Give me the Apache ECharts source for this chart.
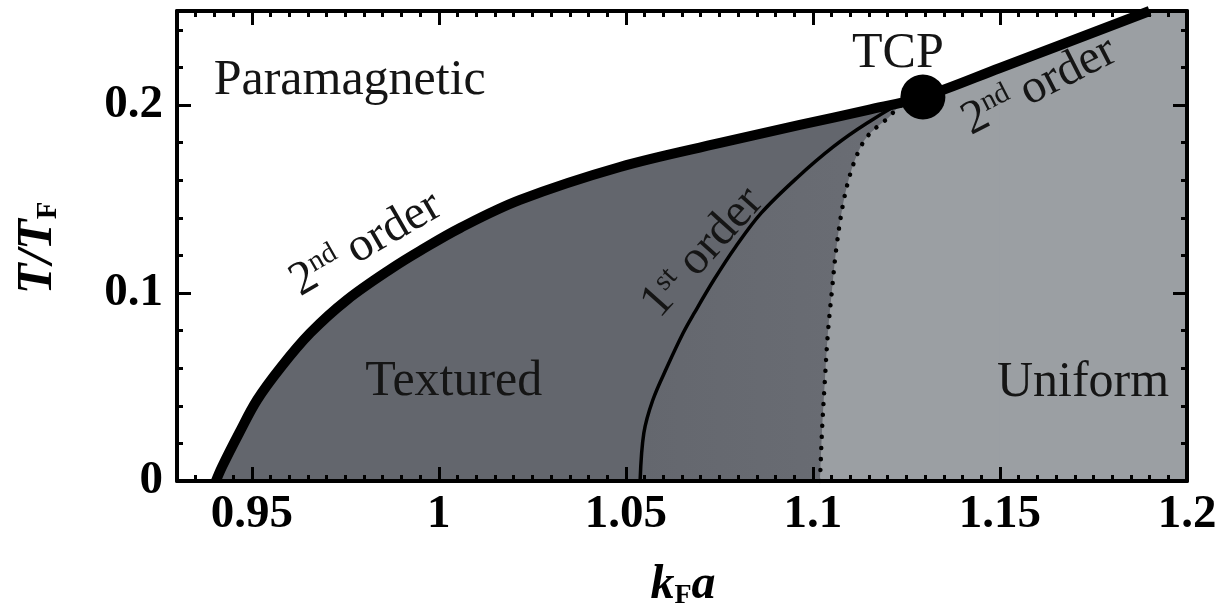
<!DOCTYPE html>
<html>
<head>
<meta charset="utf-8">
<script src="https://cdn.jsdelivr.net/npm/echarts@6/dist/echarts.min.js"></script>
<style>
html,body{margin:0;padding:0;background:#ffffff;}
#c{width:1230px;height:610px;}
</style>
</head>
<body>
<div id="c"></div>
<script>
// ---- data ----
// thick 2nd-order boundary (incl. straight segment beyond TCP)
const secondOrderK = [0.9404, 0.9420, 0.9466, 0.9514, 0.9578, 0.9656, 0.9754, 0.9877, 0.9950, 1.0057, 1.0217, 1.0484, 1.0752, 1.0965, 1.1145, 1.1294, 1.1500, 1.1900];
const secondOrderT = [0.0000, 0.0074, 0.0255, 0.0431, 0.0606, 0.0787, 0.0963, 0.1135, 0.1225, 0.1346, 0.1495, 0.1670, 0.1798, 0.1894, 0.1973, 0.2043, 0.2197, 0.2500];
// thin 1st-order line
const firstOrderK = [1.0538, 1.0548, 1.0572, 1.0610, 1.0653, 1.0683, 1.0735, 1.0793, 1.0862, 1.0957, 1.1054, 1.1145, 1.1245];
const firstOrderT = [0.0000, 0.0255, 0.0431, 0.0606, 0.0787, 0.0894, 0.1069, 0.1245, 0.1426, 0.1612, 0.1777, 0.1904, 0.2020];
// dotted line
const dottedK = [1.1019, 1.1024, 1.1032, 1.1040, 1.1051, 1.1062, 1.1080, 1.1099, 1.1120, 1.1142, 1.1171, 1.1201, 1.1233];
const dottedT = [0.0000, 0.0255, 0.0537, 0.0787, 0.1016, 0.1229, 0.1468, 0.1628, 0.1745, 0.1824, 0.1883, 0.1931, 0.1995];
// tricritical point
const tcpK = [1.1294];
const tcpT = [0.2043];
// axis ticks / labels
const xTickValues = [0.95, 1, 1.05, 1.1, 1.15, 1.2];
const yTickValues = [0, 0.1, 0.2];
const xRange = [0.93, 1.2];
const yRange = [0, 0.25];

// ---- chart ----
const SERIF = '"Liberation Serif", "DejaVu Serif", serif';
const zip = (a, b) => a.map((v, i) => [v, b[i]]);

const secondPts = zip(secondOrderK, secondOrderT);
const tcpPts = zip(tcpK, tcpT);
const texturedPts = secondPts.filter(p => p[0] <= tcpK[0]);
const firstPts = zip(firstOrderK, firstOrderT).concat(tcpPts);
const dottedPts = zip(dottedK, dottedT).concat(tcpPts);
const uniformPts = zip(dottedK, dottedT).concat(secondPts.filter(p => p[0] >= tcpK[0]));
// top-right corner of the uniform region (straight part of the boundary + plot corner)
const cornerPts = secondPts.slice(-2).concat([[xRange[1], yRange[1]]]);

const LIGHT = '#9b9fa3';
const DARK = '#63666d';
const SMOOTH = 0.35;

function majorX(pos, labels) {
  return {
    type: 'value', position: pos, min: xRange[0], max: xRange[1], z: 10,
    axisLine: { show: true, onZero: false, lineStyle: { color: '#000', width: 4 } },
    axisTick: { show: true, inside: true, length: 14, customValues: xTickValues, lineStyle: { color: '#000', width: 3 } },
    axisLabel: labels ? { show: true, customValues: xTickValues, margin: 10, color: '#000', fontFamily: SERIF, fontWeight: 'bold', fontSize: 47 } : { show: false },
    splitLine: { show: false }
  };
}
function minorX(pos) {
  return {
    type: 'value', position: pos, min: xRange[0], max: xRange[1], interval: 0.005, z: 10,
    axisLine: { show: false, onZero: false },
    axisTick: { show: true, inside: true, length: 6, lineStyle: { color: '#000', width: 3 } },
    axisLabel: { show: false }, splitLine: { show: false }
  };
}
function majorY(pos, labels) {
  return {
    type: 'value', position: pos, min: yRange[0], max: yRange[1], z: 10,
    axisLine: { show: true, onZero: false, lineStyle: { color: '#000', width: 4 } },
    axisTick: { show: true, inside: true, length: 14, customValues: yTickValues, lineStyle: { color: '#000', width: 3 } },
    axisLabel: labels ? { show: true, customValues: yTickValues, margin: 14, color: '#000', fontFamily: SERIF, fontWeight: 'bold', fontSize: 47 } : { show: false },
    splitLine: { show: false }
  };
}
function minorY(pos) {
  return {
    type: 'value', position: pos, min: yRange[0], max: yRange[1], interval: 0.02, z: 10,
    axisLine: { show: false, onZero: false },
    axisTick: { show: true, inside: true, length: 6, lineStyle: { color: '#000', width: 3 } },
    axisLabel: { show: false }, splitLine: { show: false }
  };
}
function areaSeries(pts, fill, z, smooth) {
  return { type: 'line', data: pts, smooth: smooth, showSymbol: false, silent: true, z: z,
    lineStyle: { width: 0, opacity: 0 }, areaStyle: { color: fill, opacity: 1, origin: 'start' } };
}
function strokeSeries(pts, style, z) {
  return { type: 'line', data: pts, smooth: SMOOTH, showSymbol: false, silent: true, z: z,
    lineStyle: style };
}

const chart = echarts.init(document.getElementById('c'), null, { renderer: 'canvas' });
chart.setOption({
  animation: false,
  backgroundColor: '#ffffff',
  grid: { left: 177, right: 43, top: 11, bottom: 129, show: false },
  xAxis: [majorX('bottom', true), minorX('bottom'), majorX('top', false), minorX('top')],
  yAxis: [majorY('left', true), minorY('left'), majorY('right', false), minorY('right')],
  series: [
    areaSeries(texturedPts, DARK, 1, SMOOTH),
    areaSeries(firstPts, new echarts.graphic.LinearGradient(0, 0, 1, 0, [
      { offset: 0, color: '#64676e' }, { offset: 1, color: '#6b6e75' }]), 2, SMOOTH),
    areaSeries(uniformPts, LIGHT, 3, SMOOTH),
    areaSeries(cornerPts, LIGHT, 4, false),
    strokeSeries(firstPts, { color: '#000', width: 3.5 }, 5),
    strokeSeries(dottedPts, { color: '#000', width: 4.5, type: [0.01, 11], cap: 'round' }, 5),
    strokeSeries(secondPts, { color: '#000', width: 10, join: 'round' }, 6),
    { type: 'scatter', data: tcpPts, symbol: 'circle', symbolSize: 45, silent: true, z: 7,
      itemStyle: { color: '#000', opacity: 1 } }
  ]
});

// ---- text labels anchored in data coordinates ----
const P = (k, t) => chart.convertToPixel({ xAxisIndex: 0, yAxisIndex: 0 }, [k, t]);
const txtColor = '#151515';
const richBase = {
  n: { fontFamily: SERIF, fontSize: 48, fill: txtColor },
  s: { fontFamily: SERIF, fontSize: 29, fill: txtColor, verticalAlign: 'top' }
};
function plainLabel(text, k, t, align) {
  const p = P(k, t);
  return { type: 'text', x: p[0], y: p[1], z: 100, silent: true,
    style: { text: text, fontFamily: SERIF, fontSize: 50, fill: txtColor, align: align || 'center', verticalAlign: 'middle' } };
}
function richLabel(text, k, t, deg) {
  const p = P(k, t);
  return { type: 'text', x: p[0], y: p[1], rotation: deg * Math.PI / 180, z: 100, silent: true,
    style: { text: text, rich: richBase, align: 'center', verticalAlign: 'middle' } };
}
chart.setOption({
  graphic: [
    plainLabel('Paramagnetic', 0.9398, 0.2128, 'left'),
    plainLabel('Textured', 1.0040, 0.0527),
    plainLabel('Uniform', 1.1722, 0.0521),
    plainLabel('TCP', 1.1227, 0.2271),
    richLabel('{n|2}{s|nd}{n| order}', 0.9805, 0.1260, 30),
    richLabel('{n|1}{s|st}{n| order}', 1.0705, 0.1215, 48),
    richLabel('{n|2}{s|nd}{n| order}', 1.1605, 0.2100, 27),
    { type: 'text', x: 683, y: 586, z: 100, silent: true,
      style: { text: '{i|k}{f|F}{i|a}', align: 'center', verticalAlign: 'middle',
        rich: { i: { fontFamily: SERIF, fontSize: 48, fontWeight: 'bold', fontStyle: 'italic', fill: '#000' },
                f: { fontFamily: SERIF, fontSize: 28, fontWeight: 'bold', fill: '#000', verticalAlign: 'bottom' } } } },
    { type: 'text', x: 38, y: 248, rotation: Math.PI / 2, z: 100, silent: true,
      style: { text: '{i|T/T}{f|F}', align: 'center', verticalAlign: 'middle',
        rich: { i: { fontFamily: SERIF, fontSize: 50, fontWeight: 'bold', fontStyle: 'italic', fill: '#000' },
                f: { fontFamily: SERIF, fontSize: 29, fontWeight: 'bold', fill: '#000', verticalAlign: 'bottom' } } } }
  ]
});
</script>
</body>
</html>
